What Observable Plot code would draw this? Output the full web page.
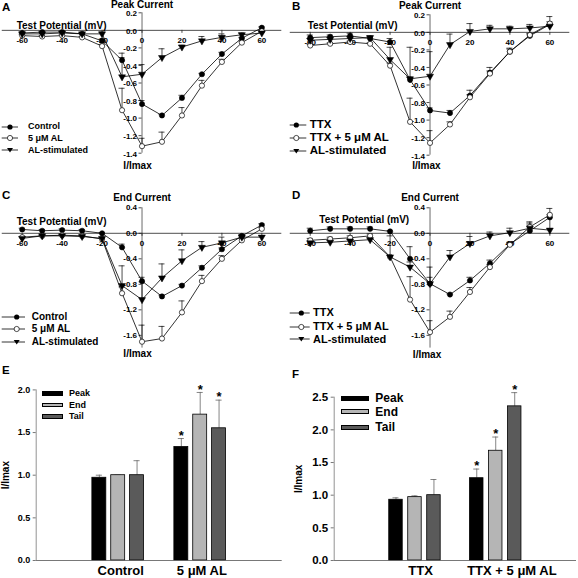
<!DOCTYPE html>
<html><head><meta charset="utf-8">
<script src="https://cdn.jsdelivr.net/npm/d3@7"></script>
<script src="https://cdn.jsdelivr.net/npm/@observablehq/plot@0.6"></script>
<style>
body{margin:0;background:#fff;font-family:"Liberation Sans",Arial,sans-serif;}
#fig{position:relative;width:578px;height:578px;overflow:hidden;background:#fff;}
.panel{position:absolute;}
.abs{position:absolute;font-weight:bold;white-space:nowrap;color:#000;}
</style></head><body><div id="fig"></div>
<script>
// ---------- DATA ----------
const voltages = [-60,-50,-40,-30,-20,-10,0,10,20,30,40,50,60];
const xTicks = [-60,-40,-20,0,20,40,60];
const yTicksPeak = [-1.4,-1.2,-1.0,-0.8,-0.6,-0.4,-0.2,0.0,0.2];
const yTicksEnd = [-1.6,-1.2,-0.8,-0.4,0.0,0.4];

// Panel A (Peak current)
const aControl    = [-0.03,-0.02,-0.02,-0.04,-0.12,-0.34,-0.84,-0.97,-0.77,-0.50,-0.27,-0.09,0.03];
const aControlErr = [0.01,0.01,0.01,0.01,0.02,0.03,0.04,0.01,0.03,0.01,0.02,0.01,0.01];
const aAL         = [-0.06,-0.07,-0.06,-0.08,-0.18,-0.91,-1.32,-1.27,-0.97,-0.63,-0.36,-0.14,-0.01];
const aALErr      = [0.01,0.01,0.01,0.01,0.02,0.25,0.09,0.11,0.09,0.06,0.03,0.02,0.01];
const aStim       = [-0.04,-0.04,-0.03,-0.04,-0.04,-0.53,-0.50,-0.31,-0.19,-0.12,-0.08,-0.05,-0.03];
const aStimErr    = [0.01,0.01,0.01,0.01,0.02,0.27,0.11,0.10,0.02,0.05,0.04,0.02,0.01];

// Panel B (Peak current, TTX)
const bTTX        = [-0.06,-0.05,-0.04,-0.07,-0.11,-0.54,-0.89,-0.92,-0.72,-0.46,-0.22,-0.04,0.09];
const bTTXErr     = [0.03,0.02,0.03,0.02,0.04,0.03,0.03,0.03,0.06,0.06,0.03,0.02,0.03];
const bAL         = [-0.15,-0.13,-0.11,-0.13,-0.38,-1.02,-1.26,-1.05,-0.74,-0.47,-0.22,-0.03,0.10];
const bALErr      = [0.01,0.01,0.01,0.01,0.03,0.27,0.14,0.03,0.03,0.03,0.04,0.02,0.08];
const bStim       = [-0.09,-0.08,-0.07,-0.06,-0.31,-0.53,-0.50,-0.14,0.01,0.04,0.04,0.05,0.07];
const bStimErr    = [0.02,0.02,0.02,0.02,0.14,0.36,0.28,0.12,0.09,0.04,0.03,0.04,0.02];

// Panel C (End current)
const cControl    = [0.06,0.04,0.05,0.04,0.00,-0.22,-0.75,-0.99,-0.82,-0.54,-0.25,-0.04,0.13];
const cControlErr = [0.02,0.02,0.02,0.02,0.01,0.05,0.06,0.02,0.02,0.03,0.02,0.02,0.02];
const cAL         = [-0.06,-0.04,-0.03,-0.04,-0.09,-0.94,-1.70,-1.65,-1.24,-0.75,-0.40,-0.11,0.07];
const cALErr      = [0.01,0.01,0.01,0.01,0.02,0.10,0.26,0.19,0.18,0.09,0.05,0.03,0.02];
const cStim       = [-0.08,-0.04,-0.04,-0.05,-0.08,-0.82,-1.04,-0.70,-0.43,-0.22,-0.15,-0.06,-0.06];
const cStimErr    = [0.02,0.01,0.01,0.01,0.02,0.31,0.28,0.22,0.17,0.09,0.09,0.02,0.02];

// Panel D (End current, TTX)
const dTTX        = [0.04,0.07,0.07,0.07,0.03,-0.40,-0.79,-0.96,-0.74,-0.47,-0.17,0.04,0.25];
const dTTXErr     = [0.04,0.03,0.03,0.03,0.01,0.19,0.26,0.01,0.05,0.05,0.03,0.12,0.04];
const dAL         = [-0.11,-0.09,-0.07,-0.04,-0.37,-1.04,-1.55,-1.31,-0.92,-0.53,-0.18,0.10,0.29];
const dALErr      = [0.03,0.03,0.03,0.03,0.02,0.36,0.18,0.09,0.07,0.04,0.03,0.08,0.10];
const dStim       = [-0.15,-0.14,-0.12,-0.10,-0.37,-0.53,-0.79,-0.37,-0.16,-0.04,0.01,0.08,0.05];
const dStimErr    = [0.03,0.03,0.03,0.03,0.33,0.08,0.10,0.10,0.11,0.06,0.07,0.05,0.20];

// Panel E (bars)
const eGroups = ["Control","5 \u03bcM AL"];
const ePeak = [0.97,1.33], ePeakErr = [0.03,0.10], ePeakSig = [false,true];
const eEnd  = [1.00,1.71], eEndErr  = [0.00,0.26], eEndSig  = [false,true];
const eTail = [1.00,1.55], eTailErr = [0.17,0.33], eTailSig = [false,true];
const eTicks = [0,0.5,1.0,1.5,2.0];

// Panel F (bars)
const fGroups = ["TTX","TTX + 5 \u03bcM AL"];
const fPeak = [0.93,1.26], fPeakErr = [0.03,0.14], fPeakSig = [false,true];
const fEnd  = [0.97,1.68], fEndErr  = [0.02,0.21], fEndSig  = [false,true];
const fTail = [1.00,2.36], fTailErr = [0.24,0.21], fTailSig = [false,true];
const fTicks = [0,0.5,1.0,1.5,2.0,2.5];

const barTypes = ["Peak","End","Tail"];
const barColors = {Peak:"#000000", End:"#b5b5b5", Tail:"#5a5a5a"};

// ---------- HELPERS ----------
const fig = document.getElementById("fig");
const FONT = '"Liberation Sans", Arial, sans-serif';
const xDomain = [-70, 70];

function place(svg, left, top) {
  svg.classList.add("panel");
  svg.style.left = left + "px";
  svg.style.top = top + "px";
  fig.appendChild(svg);
}

function ivPanel(o) {
  const iw = o.width - o.ml - o.mr, ih = o.height - o.mt - o.mb;
  const xpu = (xDomain[1] - xDomain[0]) / iw;
  const ypu = (o.yDomain[1] - o.yDomain[0]) / ih;
  const marks = [
    Plot.ruleY([0], {stroke:"#222", strokeWidth:0.8}),
    Plot.ruleX([0], {stroke:"#444", strokeWidth:0.8}),
    Plot.ruleY(o.yTicks, {y:d=>d, x1:-3*xpu, x2:0, stroke:"#222", strokeWidth:0.8}),
    Plot.ruleX(xTicks, {x:d=>d, y1:0, y2:-3*ypu, stroke:"#222", strokeWidth:0.8}),
    Plot.text(xTicks, {x:d=>d, y:0, dy:10, text:d=>String(d), fontSize:8, fontWeight:"bold"}),
    Plot.text(o.yTicks, {x:0, y:d=>d, dx:-5, dy:o.tickDy, textAnchor:"end", text:d=>d.toFixed(1), fontSize:8, fontWeight:"bold"}),
    Plot.text([o.title], {x:0, y:o.yDomain[1], dy:o.titleDy, text:d=>d, fontSize:10, fontWeight:"bold"}),
    Plot.text(["Test Potential (mV)"], {frameAnchor:"top-left", textAnchor:"middle", lineAnchor:"middle", dx:o.tpDx, dy:o.tpDy, text:d=>d, fontSize:10, fontWeight:"bold"}),
    Plot.text(["I/Imax"], {x:0, y:o.yDomain[0], dx:o.iDx, dy:o.iDy, text:d=>d, fontSize:10, fontWeight:"bold"})
  ];
  const sets = o.series.map(s => voltages.map((v,i)=>({v, y:s.values[i], e:s.err[i]})));
  sets.forEach(data => {
    marks.push(Plot.line(data, {x:"v", y:"y", stroke:"#000", strokeWidth:0.8}));
    marks.push(Plot.ruleX(data, {x:"v", y1:"y", y2:d=>d.y+d.e, stroke:"#000", strokeWidth:0.7}));
    marks.push(Plot.ruleY(data, {y:d=>d.y+d.e, x1:d=>d.v-3*xpu, x2:d=>d.v+3*xpu, stroke:"#000", strokeWidth:0.7}));
  });
  o.series.forEach((s,k) => {
    const data = sets[k];
    if (s.sym === "filled") marks.push(Plot.dot(data, {x:"v", y:"y", r:2.6, fill:"#000", stroke:"#000", strokeWidth:0.6}));
    else if (s.sym === "open") marks.push(Plot.dot(data, {x:"v", y:"y", r:2.6, fill:"#fff", stroke:"#000", strokeWidth:0.7}));
    else marks.push(Plot.dot(data, {x:"v", y:"y", r:2.6, symbol:"triangle", rotate:180, fill:"#000", stroke:"#000", strokeWidth:0.5}));
  });
  const svg = Plot.plot({
    width:o.width, height:o.height,
    marginLeft:o.ml, marginRight:o.mr, marginTop:o.mt, marginBottom:o.mb,
    x:{domain:xDomain, axis:null},
    y:{domain:o.yDomain, axis:null},
    style:{fontFamily:FONT, background:"transparent", overflow:"visible"},
    marks
  });
  place(svg, o.left, o.top);
}

function symSvg(sym, x0, x1, xm) {
  let m;
  if (sym === "filled") m = `<circle cx="${xm}" cy="6" r="2.6" fill="#000"/>`;
  else if (sym === "open") m = `<circle cx="${xm}" cy="6" r="2.6" fill="#fff" stroke="#000" stroke-width="0.7"/>`;
  else m = `<polygon points="${xm-3},4 ${xm+3},4 ${xm},8.5" fill="#000"/>`;
  return `<svg width="${x1+2}" height="12" style="position:absolute;left:0;top:0;overflow:visible"><line x1="${x0}" y1="6" x2="${x1}" y2="6" stroke="#000" stroke-width="0.8"/>${m}</svg>`;
}

function ivLegend(left, rows, x0, x1, xm, xt, fs) {
  rows.forEach(r => {
    const d = document.createElement("div");
    d.className = "abs";
    d.style.left = left + "px"; d.style.top = (r.y - 6) + "px";
    d.style.width = "150px"; d.style.height = "12px";
    d.innerHTML = symSvg(r.sym, x0, x1, xm) +
      `<span style="position:absolute;left:${xt}px;top:${6 - fs*0.6}px;font-size:${fs}px;line-height:${fs*1.2}px">${r.label}</span>`;
    fig.appendChild(d);
  });
}

function barPanel(o) {
  const iw = o.width - o.ml - o.mr, ih = o.height - o.mt - o.mb;
  const offs = {Peak:-o.off, End:0, Tail:o.off};
  const marks = [];
  barTypes.forEach(t => {
    const data = o.groups.map((g,gi)=>({g:gi+1, v:o.vals[t][gi], e:o.errs[t][gi], s:o.sig[t][gi], c:gi+1+offs[t]}));
    marks.push(Plot.ruleX(data, {x:"c", y1:"v", y2:d=>d.v+d.e, stroke:"#666", strokeWidth:0.8}));
    marks.push(Plot.ruleY(data, {y:d=>d.v+d.e, x1:d=>d.c-o.cap, x2:d=>d.c+o.cap, stroke:"#666", strokeWidth:0.8}));
    marks.push(Plot.rectY(data, {x1:d=>d.c-o.bw/2, x2:d=>d.c+o.bw/2, y1:0, y2:"v", fill:barColors[t], stroke:"#000", strokeWidth:0.8}));
    marks.push(Plot.text(data.filter(d=>d.s), {x:"c", y:d=>d.v+d.e, dy:-3, text:()=>"*", fontSize:13, fontWeight:"bold"}));
  });
  marks.push(Plot.ruleY([0], {stroke:"#555", strokeWidth:0.8}));
  marks.push(Plot.ruleX([0], {stroke:"#777", strokeWidth:0.8}));
  marks.push(Plot.ruleY(o.yTicks, {y:d=>d, x1:-3*(3/iw), x2:0, stroke:"#555", strokeWidth:0.8}));
  marks.push(Plot.text(o.yTicks, {x:0, y:d=>d, dx:-6, textAnchor:"end", text:d=>d.toFixed(1), fontSize:o.tickFs, fontWeight:"bold"}));
  marks.push(Plot.text(o.groups, {x:(d,i)=>i+1+o.labShift[i], y:0, dy:10, text:d=>d, fontSize:o.catFs, fontWeight:"bold"}));
  marks.push(Plot.text(["I/Imax"], {frameAnchor:"left", textAnchor:"middle", lineAnchor:"middle", dx:o.ylabDx, rotate:-90, text:d=>d, fontSize:10, fontWeight:"bold"}));
  const svg = Plot.plot({
    width:o.width, height:o.height,
    marginLeft:o.ml, marginRight:o.mr, marginTop:o.mt, marginBottom:o.mb,
    x:{domain:[0,3], axis:null},
    y:{domain:o.yDomain, axis:null},
    style:{fontFamily:FONT, background:"transparent", overflow:"visible"},
    marks
  });
  place(svg, o.left, o.top);
}

function barLegend(rows, rx, rw, rh, xt, fs) {
  rows.forEach(r => {
    const b = document.createElement("div");
    b.style.cssText = `position:absolute;left:${rx}px;top:${r.y - rh/2}px;width:${rw}px;height:${rh}px;background:${barColors[r.t]};border:0.8px solid #000;box-sizing:border-box;`;
    fig.appendChild(b);
    const d = document.createElement("div");
    d.className = "abs";
    d.style.cssText += `left:${xt}px;top:${r.y - fs*0.6}px;font-size:${fs}px;line-height:${fs*1.2}px;`;
    d.textContent = r.t;
    fig.appendChild(d);
  });
}

function letter(ch, x, y) {
  const d = document.createElement("div");
  d.className = "abs";
  d.style.cssText += `left:${x}px;top:${y}px;font-size:11.5px;line-height:11.5px;`;
  d.textContent = ch;
  fig.appendChild(d);
}

// ---------- BUILD ----------
ivPanel({left:0, top:0, width:290, height:172, ml:1.75, mr:8.7, mt:12.3, mb:19.3,
  yDomain:[-1.4,0.2], yTicks:yTicksPeak, title:"Peak Current", titleDy:-8.5, tickDy:0.8,
  tpDx:59.3, tpDy:12.7, iDx:-4.5, iDy:12.5,
  series:[{values:aControl, err:aControlErr, sym:"filled"},
          {values:aAL, err:aALErr, sym:"open"},
          {values:aStim, err:aStimErr, sym:"tri"}]});
ivPanel({left:288, top:1.6, width:290, height:172, ml:1.75, mr:8.7, mt:12.3, mb:19.3,
  yDomain:[-1.4,0.2], yTicks:yTicksPeak, title:"Peak Current", titleDy:-9.5, tickDy:0.8,
  tpDx:62.3, tpDy:11.2, iDx:-3.7, iDy:11,
  series:[{values:bTTX, err:bTTXErr, sym:"filled"},
          {values:bAL, err:bALErr, sym:"open"},
          {values:bStim, err:bStimErr, sym:"tri"}]});
ivPanel({left:0, top:190, width:290, height:170, ml:1.75, mr:8.7, mt:17.3, mb:12.4,
  yDomain:[-1.8,0.4], yTicks:yTicksEnd, title:"End Current", titleDy:-10, tickDy:0,
  tpDx:59.3, tpDy:14.4, iDx:-4.5, iDy:6,
  series:[{values:cControl, err:cControlErr, sym:"filled"},
          {values:cAL, err:cALErr, sym:"open"},
          {values:cStim, err:cStimErr, sym:"tri"}]});
ivPanel({left:288, top:190, width:290, height:170, ml:1.75, mr:8.7, mt:17.3, mb:12.4,
  yDomain:[-1.8,0.4], yTicks:yTicksEnd, title:"End Current", titleDy:-10, tickDy:0,
  tpDx:74, tpDy:11.7, iDx:-3, iDy:7,
  series:[{values:dTTX, err:dTTXErr, sym:"filled"},
          {values:dAL, err:dALErr, sym:"open"},
          {values:dStim, err:dStimErr, sym:"tri"}]});

barPanel({left:0, top:380, width:290, height:198, ml:35.7, mr:8.3, mt:9.4, mb:18,
  yDomain:[0,2.0], yTicks:eTicks, groups:eGroups, off:0.23, bw:0.17, cap:0.037,
  vals:{Peak:ePeak, End:eEnd, Tail:eTail}, errs:{Peak:ePeakErr, End:eEndErr, Tail:eTailErr},
  sig:{Peak:ePeakSig, End:eEndSig, Tail:eTailSig}, tickFs:9, catFs:13, ylabDx:-30.7, labShift:[0.03,0.02]});
barPanel({left:288, top:380, width:290, height:198, ml:45.7, mr:2, mt:16.7, mb:18,
  yDomain:[0,2.5], yTicks:fTicks, groups:fGroups, off:0.235, bw:0.167, cap:0.037,
  vals:{Peak:fPeak, End:fEnd, Tail:fTail}, errs:{Peak:fPeakErr, End:fEndErr, Tail:fTailErr},
  sig:{Peak:fPeakSig, End:fEndSig, Tail:fTailSig}, tickFs:11.5, catFs:13, ylabDx:-35.7, labShift:[0.07,0.2]});

ivLegend(0, [{y:126.7, sym:"filled", label:"Control"},{y:138, sym:"open", label:"5 \u03bcM AL"},{y:150, sym:"tri", label:"AL-stimulated"}], 1.7, 18, 10, 28, 9);
ivLegend(288, [{y:125, sym:"filled", label:"TTX"},{y:137.5, sym:"open", label:"TTX + 5 \u03bcM AL"},{y:150.5, sym:"tri", label:"AL-stimulated"}], 1.7, 18.3, 8.3, 21.7, 11.5);
ivLegend(0, [{y:316.7, sym:"filled", label:"Control"},{y:328.5, sym:"open", label:"5 \u03bcM AL"},{y:341.7, sym:"tri", label:"AL-stimulated"}], 1.7, 25, 16.7, 31.7, 10);
ivLegend(288, [{y:312.7, sym:"filled", label:"TTX"},{y:326.5, sym:"open", label:"TTX + 5 \u03bcM AL"},{y:339.3, sym:"tri", label:"AL-stimulated"}], 1.7, 21.7, 13.3, 25, 11);

barLegend([{t:"Peak", y:393.3},{t:"End", y:405},{t:"Tail", y:416.7}], 41.7, 21.6, 4.6, 69, 9);
barLegend([{t:"Peak", y:398},{t:"End", y:411.7},{t:"Tail", y:427}], 341.3, 27.7, 5, 375.3, 12);

letter("A", 2, 1.6);
letter("B", 292, 1.3);
letter("C", 2, 190.3);
letter("D", 292, 190.3);
letter("E", 2, 365.3);
letter("F", 292, 368.6);
</script></body></html>
